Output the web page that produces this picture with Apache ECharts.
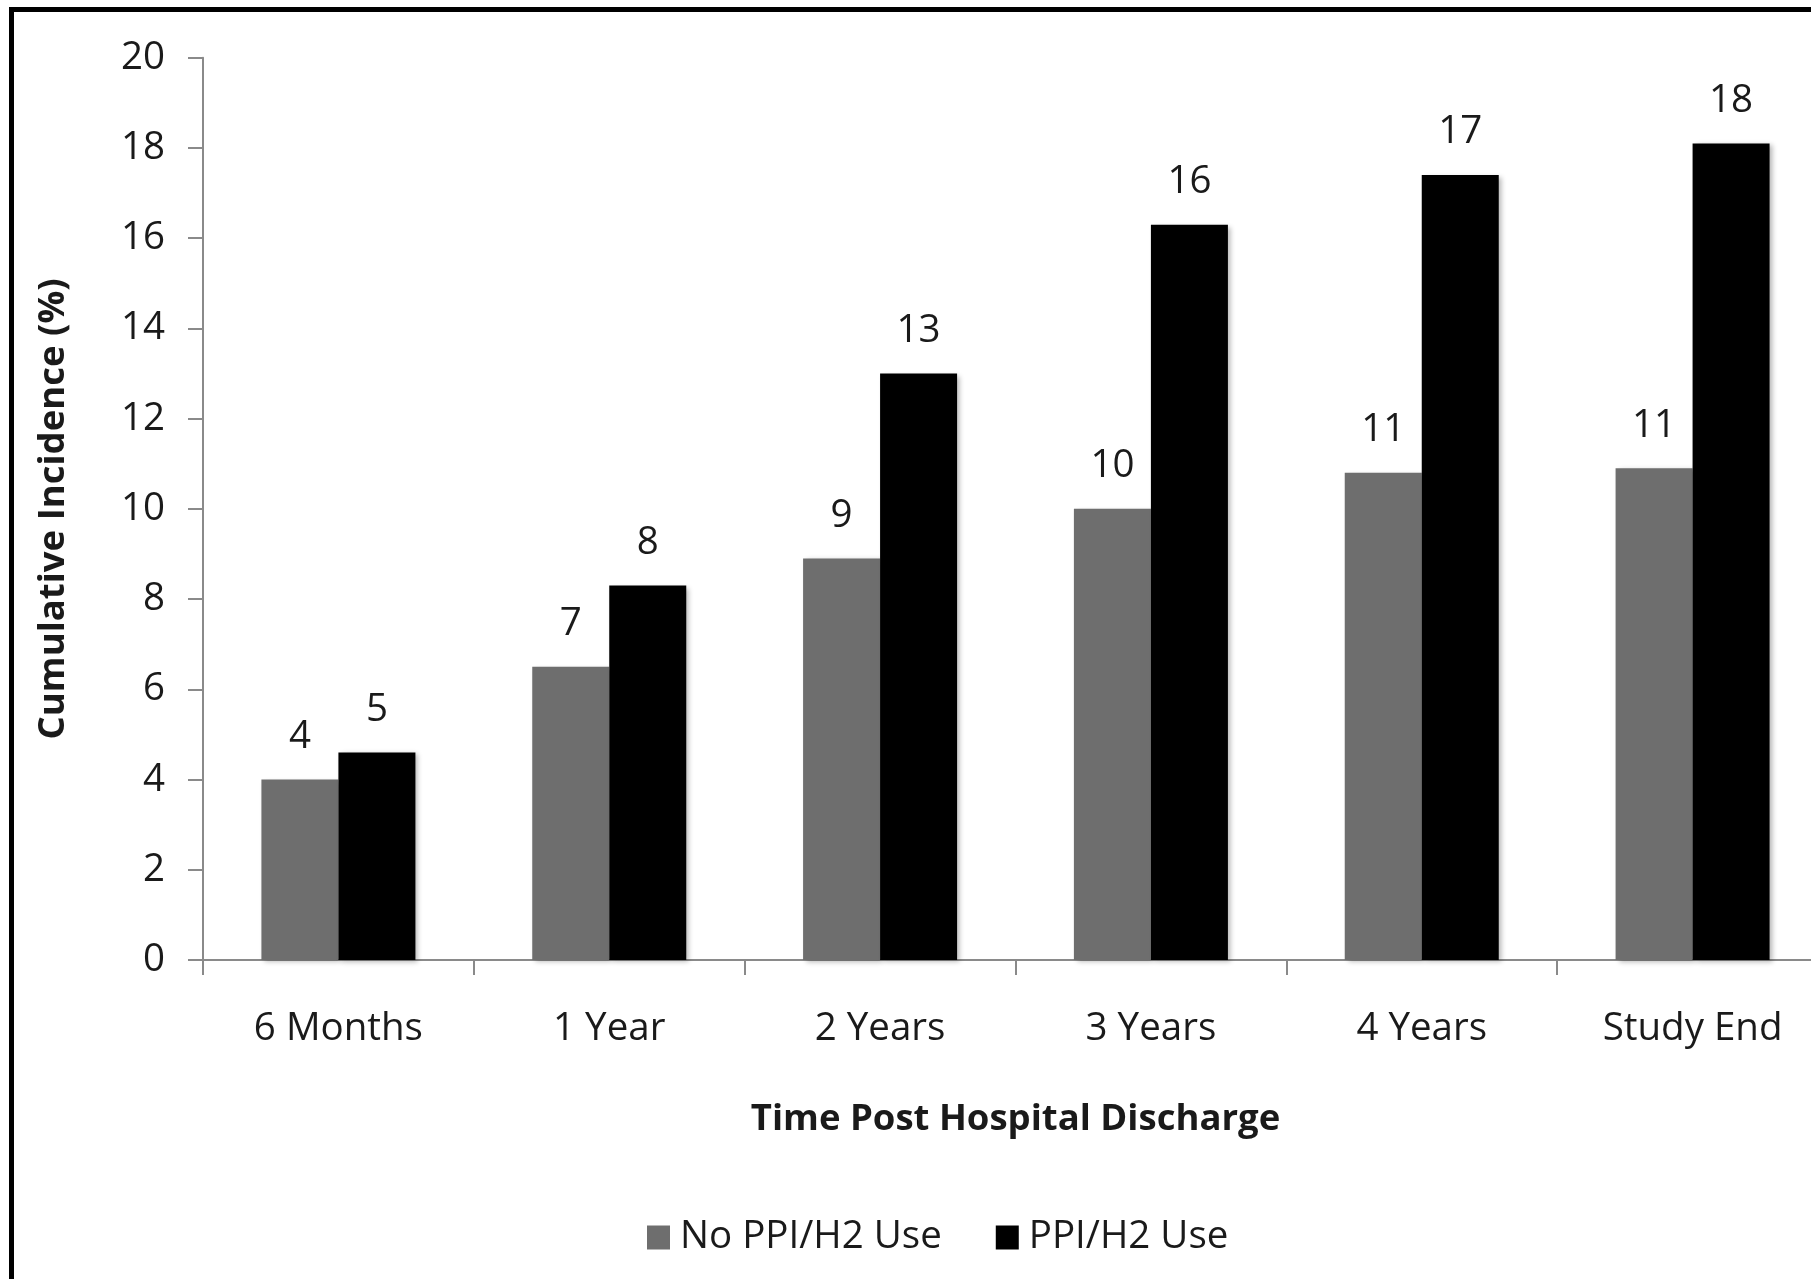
<!DOCTYPE html>
<html>
<head>
<meta charset="utf-8">
<script src="https://cdn.jsdelivr.net/npm/echarts@6/dist/echarts.min.js"></script>
<style>
html,body{margin:0;padding:0;background:#fff;}
#c{width:1811px;height:1279px;}
</style>
</head>
<body>
<div id="c"></div>
<script>
var categories = ['6 Months', '1 Year', '2 Years', '3 Years', '4 Years', 'Study End'];
var noPpiValues = [4.0, 6.5, 8.9, 10.0, 10.8, 10.9];
var ppiValues = [4.6, 8.3, 13.0, 16.3, 17.4, 18.1];
var noPpiLabels = [4, 7, 9, 10, 11, 11];
var ppiLabels = [5, 8, 13, 16, 17, 18];
var yTicks = [0, 2, 4, 6, 8, 10, 12, 14, 16, 18, 20];

var FONT = '"Open Sans", "DejaVu Sans", sans-serif';
var TXT = '#1a1a1a';
var AX = '#8a8a8a';

var chart = echarts.init(document.getElementById('c'), null, {renderer: 'canvas'});
var shadow = {shadowColor: 'rgba(0,0,0,0.28)', shadowBlur: 5, shadowOffsetX: 3, shadowOffsetY: 2};

chart.setOption({
  animation: false,
  backgroundColor: '#ffffff',
  textStyle: {fontFamily: FONT},
  grid: {left: 203, top: 57.7, height: 902.3, width: 1625, containLabel: false, outerBoundsMode: 'none'},
  legend: {
    show: true,
    left: 642,
    top: 1213,
    itemWidth: 23,
    itemHeight: 24,
    itemGap: 54,
    icon: 'rect',
    data: ['No PPI/H2 Use', 'PPI/H2 Use'],
    textStyle: {fontFamily: FONT, fontSize: 38.5, color: TXT, padding: [0, 0, 0, 5]}
  },
  xAxis: {
    type: 'category',
    data: categories,
    name: 'Time Post Hospital Discharge',
    nameLocation: 'middle',
    nameGap: 141,
    nameTextStyle: {fontFamily: FONT, fontSize: 36.5, fontWeight: 'bold', color: TXT},
    axisLine: {show: true, lineStyle: {color: AX, width: 2}},
    axisTick: {show: true, length: 15, alignWithLabel: false, lineStyle: {color: AX, width: 2}},
    axisLabel: {show: true, margin: 50, fontFamily: FONT, fontSize: 38.5, color: TXT, interval: 0},
    splitLine: {show: false}
  },
  yAxis: {
    type: 'value',
    min: 0,
    max: 20,
    interval: 2,
    name: 'Cumulative Incidence (%)',
    nameLocation: 'middle',
    nameGap: 131,
    nameRotate: 90,
    nameTextStyle: {fontFamily: FONT, fontSize: 36.5, fontWeight: 'bold', color: TXT},
    axisLine: {show: true, lineStyle: {color: AX, width: 2}},
    axisTick: {show: true, length: 15, lineStyle: {color: AX, width: 2}},
    axisLabel: {show: true, margin: 38, fontFamily: FONT, fontSize: 38.5, color: TXT,
      formatter: function (v) { return yTicks.indexOf(v) >= 0 ? String(v) : ''; }},
    splitLine: {show: false}
  },
  series: [
    {
      name: 'No PPI/H2 Use',
      type: 'bar',
      data: noPpiValues,
      barWidth: 77,
      barGap: '0%',
      itemStyle: Object.assign({color: '#6e6e6e'}, shadow),
      label: {show: true, position: 'top', distance: 23, fontFamily: FONT, fontSize: 38.5, color: TXT,
        formatter: function (p) { return String(noPpiLabels[p.dataIndex]); }}
    },
    {
      name: 'PPI/H2 Use',
      type: 'bar',
      data: ppiValues,
      barWidth: 77,
      barGap: '0%',
      itemStyle: Object.assign({color: '#000000'}, shadow),
      label: {show: true, position: 'top', distance: 23, fontFamily: FONT, fontSize: 38.5, color: TXT,
        formatter: function (p) { return String(ppiLabels[p.dataIndex]); }}
    }
  ],
  graphic: [
    {
      type: 'polyline',
      silent: true,
      z: 100,
      shape: {points: [[11.5, 1300], [11.5, 9.5], [1830, 9.5]]},
      style: {stroke: '#000000', lineWidth: 5, fill: null}
    }
  ]
});
</script>
</body>
</html>
